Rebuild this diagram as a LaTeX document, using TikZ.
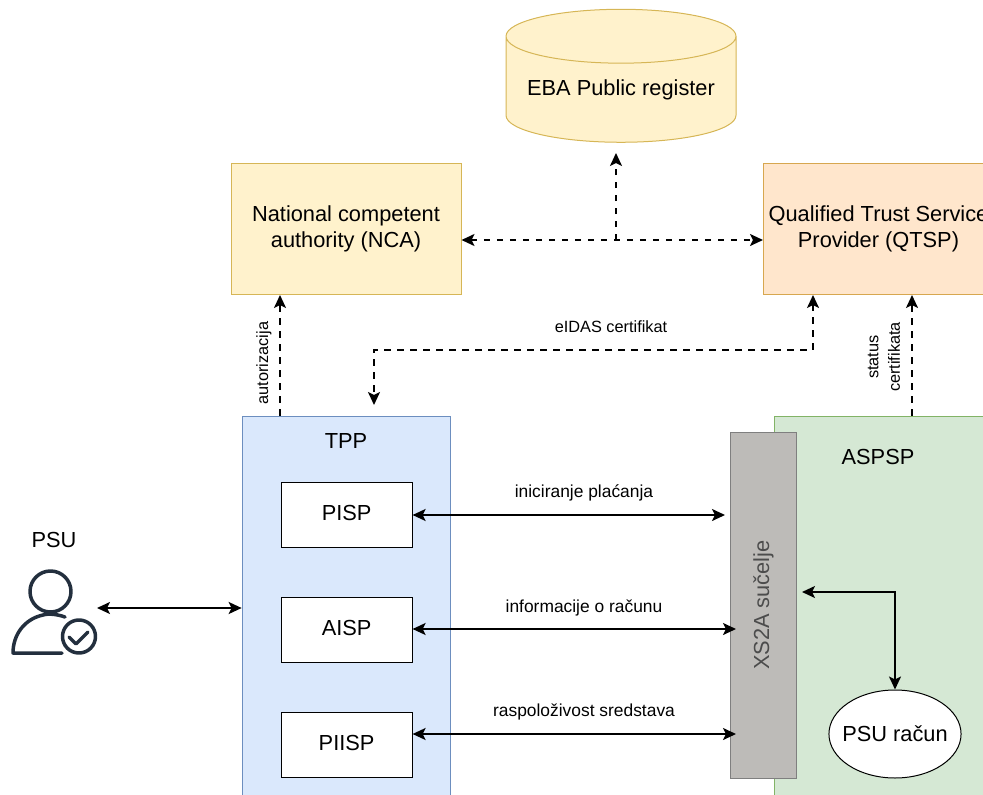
\documentclass[tikz,border=0pt]{standalone}
\usepackage{fontspec}
\setmainfont{Liberation Sans}
\usepackage{xcolor}
\usetikzlibrary{arrows.meta, shapes.geometric, positioning, calc}

\definecolor{yellowfill}{HTML}{FFF2CC}
\definecolor{yellowline}{HTML}{D6B656}
\definecolor{orangefill}{HTML}{FFE6CC}
\definecolor{orangeline}{HTML}{D7A74F}
\definecolor{bluefill}{HTML}{DAE8FC}
\definecolor{blueline}{HTML}{6C8EBF}
\definecolor{greenfill}{HTML}{D5E8D4}
\definecolor{greenline}{HTML}{82B366}
\definecolor{xsfill}{HTML}{BDBBB8}
\definecolor{xsline}{HTML}{7F7F7F}
\definecolor{iconcol}{HTML}{232F3E}

\tikzset{
  bigtext/.style={font=\fontsize{21.8}{26}\selectfont, align=center},
  midtext/.style={font=\fontsize{17.4}{21}\selectfont, align=center},
  smalltext/.style={font=\fontsize{16.3}{21.5}\selectfont, align=center},
  box/.style={draw, line width=1pt, inner sep=0pt, bigtext},
  twoway/.style={line width=2pt, {Stealth[length=13pt,width=12pt,inset=3pt]}-{Stealth[length=13pt,width=12pt,inset=3pt]}},
  dasharrow/.style={twoway, dash pattern=on 6.5pt off 6.5pt},
  oneway/.style={line width=2pt, dash pattern=on 6.5pt off 6.5pt, -{Stealth[length=13pt,width=12pt,inset=3pt]}}
}

\begin{document}
\begin{tikzpicture}[x=1pt,y=-1pt]
    \useasboundingbox (0,0) rectangle (983,795);
    \clip (0,0) rectangle (983,795);

    \def\boxw{131}
    \def\boxh{65}

    % top row
    \node[box, shape=cylinder, shape border rotate=90, aspect=0.287, draw=yellowline, fill=yellowfill,
      cylinder uses custom fill, cylinder body fill=yellowfill, cylinder end fill=yellowfill,
      minimum width=230, minimum height=133] (eba) at (621,89.5) {EBA Public register};
    \node[box, draw=yellowline, fill=yellowfill, minimum width=230, minimum height=131] (nca) at (346,229) {National competent\\authority (NCA)};
    \node[box, draw=orangeline, fill=orangefill, minimum width=230, minimum height=131] (qtsp) at (878.5,229) {Qualified Trust Service\\Provider (QTSP)};

    % containers
    \node[box, draw=blueline, fill=bluefill, minimum width=208.5, minimum height=460] (tpp) at (346.4,646) {};
    \node[bigtext] (tpplabel) at (346,441) {TPP};
    \node[box, draw=greenline, fill=greenfill, minimum width=209, minimum height=460] (aspsp) at (878.5,646) {};
    \node[bigtext] (aspsplabel) at (878,457) {ASPSP};

    \node[box, draw=xsline, fill=xsfill, text=black!70, rotate=90, minimum width=346, minimum height=66] (xs2a) at (763.5,605) {XS2A sučelje};

    \node[box, fill=white, text depth=4pt, minimum width=\boxw, minimum height=\boxh] (pisp) at (346.6,514.5) {PISP};
    \node[box, fill=white, text depth=4pt, minimum width=\boxw, minimum height=\boxh] (aisp) at (346.6,629.5) {AISP};
    \node[box, fill=white, text depth=4pt, minimum width=\boxw, minimum height=\boxh] (piisp) at (346.6,744.5) {PIISP};
    \node[box, shape=ellipse, fill=white, inner xsep=-6pt, minimum width=132, minimum height=88] (racun) at (895,734) {PSU račun};

    % PSU icon
    \node[bigtext] (psu) at (54,540) {PSU};
    \begin{scope}[draw=iconcol, line width=3.5pt, line cap=round, line join=round]
      \draw (50.5,591.5) circle (20.5);
      \draw (65,617) .. controls (55,613.5) and (46,613.5) .. (41,615.5) .. controls (24,620) and (13,635) .. (13,653) -- (62,653);
      \draw (79,636.5) circle (16.5);
      \draw (69,637) -- (76,644) -- (88,632);
    \end{scope}

    % free ends
    \coordinate (psuend) at (97,608);
    \coordinate (ebaend) at (616,153);
    \coordinate (junction) at (616,240);
    \coordinate (tppend) at (374,405);
    \coordinate (qtspcert) at (813,295);
    \coordinate (xsa) at (725,515);
    \coordinate (xsb) at (736,629);
    \coordinate (xsc) at (736,734);
    \coordinate (xsd) at (802,592);

    \draw[twoway] (psuend) -- (tpp.west |- psuend);
    \draw[twoway] (pisp.east |- xsa) -- (xsa);
    \draw[twoway] (aisp.east |- xsb) -- (xsb);
    \draw[twoway] (piisp.east |- xsc) -- (xsc);
    \draw[twoway] (xsd) -| (racun.north);

    \draw[dasharrow] (nca.east |- junction) -- (qtsp.west |- junction);
    \draw[oneway] (junction) -- (ebaend);
    \draw[dasharrow] (qtspcert) -- ++(0,55) -| (tppend);
    \draw[oneway] (tpp.north -| 280,0) -- (nca.south -| 280,0);
    \draw[oneway] (aspsp.north -| 912,0) -- (qtsp.south -| 912,0);

    % labels
    \node[midtext] (lblinic) at (584,492.5) {iniciranje plaćanja};
    \node[midtext] (lblinfo) at (584,607.5) {informacije o računu};
    \node[midtext] (lblrasp) at (584,711.5) {raspoloživost sredstava};
    \node[smalltext] (lbleidas) at (611,327) {eIDAS certifikat};
    \node[smalltext, rotate=90] (lblauth) at (264,363) {autorizacija};
    \node[smalltext, rotate=90] (lblstatus) at (884,357) {status\\certifikata};
\end{tikzpicture}
\end{document}
